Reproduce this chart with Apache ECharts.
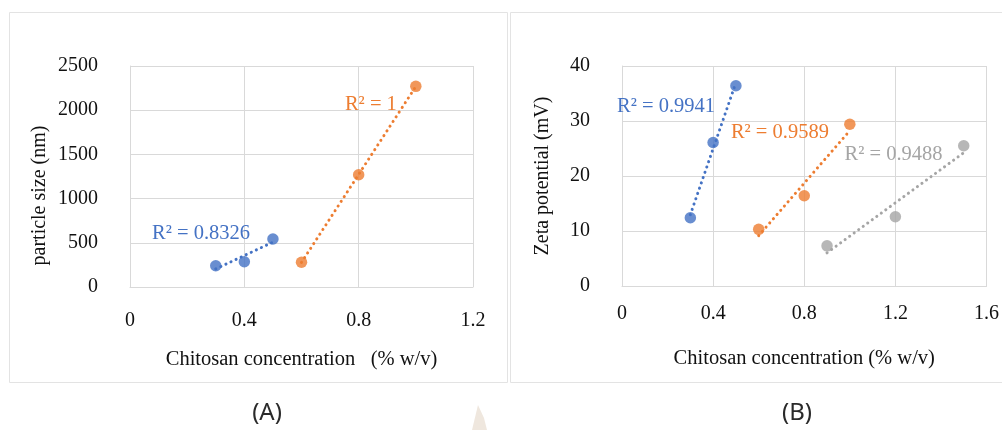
<!DOCTYPE html>
<html>
<head>
<meta charset="utf-8">
<script src="https://cdn.jsdelivr.net/npm/echarts@6/dist/echarts.min.js"></script>
<style>
html,body{margin:0;padding:0;background:#fff;}
#c{width:1002px;height:430px;}
</style>
</head>
<body>
<div id="c"></div>
<script>
// ---- data ----
const aBlueX = [0.3, 0.4, 0.5];
const aBlueY = [240, 285, 543];
const aOrangeX = [0.6, 0.8, 1.0];
const aOrangeY = [280, 1270, 2270];
const bBlueX = [0.3, 0.4, 0.5];
const bBlueY = [12.4, 26.1, 36.4];
const bOrangeX = [0.6, 0.8, 1.0];
const bOrangeY = [10.3, 16.4, 29.4];
const bGrayX = [0.9, 1.2, 1.5];
const bGrayY = [7.3, 12.6, 25.5];
const r2A = ['R² = 0.8326', 'R² = 1'];
const r2B = ['R² = 0.9941', 'R² = 0.9589', 'R² = 0.9488'];
const xTicksA = [0, 0.4, 0.8, 1.2];
const yTicksA = [0, 500, 1000, 1500, 2000, 2500];
const xTicksB = [0, 0.4, 0.8, 1.2, 1.6];
const yTicksB = [0, 10, 20, 30, 40];
const panelLabels = ['(A)', '(B)'];

const BLUE = '#4472C4', ORANGE = '#ED7D31', GRAY = '#A5A5A5';
const SERIF = '"Liberation Serif", "Times New Roman", serif';
const TXT = '#111';

function pts(xs, ys) { return xs.map((x, i) => [x, ys[i]]); }
function trend(xs, ys) {
  const n = xs.length;
  const mx = xs.reduce((a, b) => a + b, 0) / n;
  const my = ys.reduce((a, b) => a + b, 0) / n;
  let sxy = 0, sxx = 0;
  for (let i = 0; i < n; i++) { sxy += (xs[i] - mx) * (ys[i] - my); sxx += (xs[i] - mx) ** 2; }
  const k = sxy / sxx, b = my - k * mx;
  const x0 = Math.min(...xs), x1 = Math.max(...xs);
  return [[x0, k * x0 + b], [x1, k * x1 + b]];
}

function xAxis(gi, ticks, margin, name) {
  return {
    gridIndex: gi, type: 'value', min: ticks[0], max: ticks[ticks.length - 1],
    interval: ticks[1] - ticks[0],
    axisLine: { show: true, lineStyle: { color: '#d9d9d9', width: 1 } },
    axisTick: { show: false },
    splitLine: { show: true, lineStyle: { color: '#d9d9d9', width: 1 } },
    axisLabel: { color: TXT, fontFamily: SERIF, fontSize: 20, margin: margin,
      formatter: v => (Math.round(v * 10) / 10).toString() },
    name: name, nameLocation: 'middle', nameGap: 62,
    nameTextStyle: { color: TXT, fontFamily: SERIF, fontSize: 20.5 }
  };
}
function yAxis(gi, ticks, name, gap, shift) {
  return {
    gridIndex: gi, type: 'value', min: ticks[0], max: ticks[ticks.length - 1],
    interval: ticks[1] - ticks[0],
    axisLine: { show: true, lineStyle: { color: '#d9d9d9', width: 1 } },
    axisTick: { show: false },
    splitLine: { show: true, lineStyle: { color: '#d9d9d9', width: 1 } },
    axisLabel: { color: TXT, fontFamily: SERIF, fontSize: 20, margin: 32,
      formatter: v => String(v) },
    name: name, nameLocation: 'middle', nameGap: gap, nameRotate: 90,
    nameTextStyle: { color: TXT, fontFamily: SERIF, fontSize: 20, padding: [0, shift, 0, 0] }
  };
}

function scatter(gi, xs, ys, color) {
  return {
    type: 'scatter', xAxisIndex: gi, yAxisIndex: gi, data: pts(xs, ys),
    symbolSize: 11.5, itemStyle: { color: color }, z: 3
  };
}
function trendLine(gi, xs, ys, color, label, coord, dx) {
  return {
    type: 'line', xAxisIndex: gi, yAxisIndex: gi, data: trend(xs, ys),
    showSymbol: false, symbol: 'none', z: 2,
    lineStyle: { color: color, width: 3, type: [0.1, 5.5], cap: 'round' },
    markPoint: {
      symbol: 'circle', symbolSize: 0, silent: true,
      data: [{ coord: coord, value: label }],
      label: { show: true, position: 'right', distance: 0, offset: [dx || 0, 0], formatter: label,
        color: color, fontFamily: SERIF, fontSize: 20.5 }
    }
  };
}

const chart = echarts.init(document.getElementById('c'), null, { renderer: 'canvas' });
chart.setOption({
  backgroundColor: '#fff',
  animation: false,
  grid: [
    { left: 130, right: 1002 - 473, top: 66, bottom: 430 - 287 },
    { left: 622, right: 1002 - 987, top: 66, bottom: 430 - 286 }
  ],
  xAxis: [xAxis(0, xTicksA, 24, 'Chitosan concentration   (% w/v)'),
          xAxis(1, xTicksB, 18, 'Chitosan concentration (% w/v)')],
  yAxis: [yAxis(0, yTicksA, 'particle size (nm)', 80, 38),
          yAxis(1, yTicksB, 'Zeta potential (mV)', 69, 0)],
  series: [
    trendLine(0, aBlueX, aBlueY, BLUE, r2A[0], [0.077, 600]),
    trendLine(0, aOrangeX, aOrangeY, ORANGE, r2A[1], [0.752, 2059]),
    scatter(0, aBlueX, aBlueY, BLUE),
    scatter(0, aOrangeX, aOrangeY, ORANGE),
    trendLine(1, bBlueX, bBlueY, BLUE, r2B[0], [0, 32.7], -5),
    trendLine(1, bOrangeX, bOrangeY, ORANGE, r2B[1], [0.478, 27.8]),
    trendLine(1, bGrayX, bGrayY, GRAY, r2B[2], [0.977, 23.8]),
    scatter(1, bBlueX, bBlueY, BLUE),
    scatter(1, bOrangeX, bOrangeY, ORANGE),
    scatter(1, bGrayX, bGrayY, GRAY)
  ],
  graphic: [
    { type: 'rect', shape: { x: 9.5, y: 12.5, width: 498, height: 370 },
      style: { fill: 'none', stroke: '#e3e3e3', lineWidth: 1 }, z: -1 },
    { type: 'rect', shape: { x: 510.5, y: 12.5, width: 500, height: 370 },
      style: { fill: 'none', stroke: '#e3e3e3', lineWidth: 1 }, z: -1 },
    { type: 'text', x: 267, y: 413, style: { text: panelLabels[0], fill: '#2a2a2a',
      font: '24px "Noto Sans", "Open Sans", sans-serif', textAlign: 'center', textVerticalAlign: 'middle' } },
    { type: 'text', x: 797, y: 413, style: { text: panelLabels[1], fill: '#2a2a2a',
      font: '24px "Noto Sans", "Open Sans", sans-serif', textAlign: 'center', textVerticalAlign: 'middle' } },
    { type: 'polygon', shape: { points: [[472, 430], [478, 405], [484, 418], [487, 430]] },
      style: { fill: '#efe7de' } }
  ]
});
</script>
</body>
</html>
